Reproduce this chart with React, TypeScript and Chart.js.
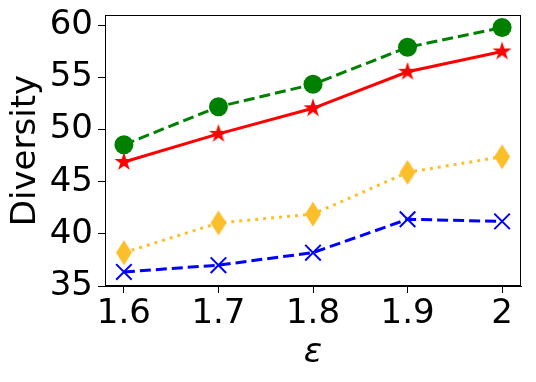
import React, { useEffect, useRef } from "react";
import { Chart, registerables } from "chart.js";

Chart.register(...registerables);

const epsilons = [1.6, 1.7, 1.8, 1.9, 2.0];
const greenSeries = [48.55, 52.2, 54.35, 57.9, 59.8];
const redSeries = [46.9, 49.6, 52.05, 55.55, 57.5];
const orangeSeries = [38.2, 41.05, 41.9, 45.9, 47.4];
const blueSeries = [36.35, 37.0, 38.2, 41.4, 41.2];
const yTickValues = [35, 40, 45, 50, 55, 60];
const xTickValues = [1.6, 1.7, 1.8, 1.9, 2.0];

const FONT = "'DejaVu Sans', sans-serif";

function makeStar(color: string, R: number) {
  const c = document.createElement("canvas");
  const s = Math.ceil(2 * R + 2);
  c.width = s;
  c.height = s;
  const ctx = c.getContext("2d")!;
  const cx = s / 2, cy = s / 2;
  const r = R * 0.381966;
  ctx.beginPath();
  for (let i = 0; i < 10; i++) {
    const rad = i % 2 === 0 ? R : r;
    const a = -Math.PI / 2 + (i * Math.PI) / 5;
    const x = cx + rad * Math.cos(a);
    const y = cy + rad * Math.sin(a);
    if (i === 0) ctx.moveTo(x, y);
    else ctx.lineTo(x, y);
  }
  ctx.closePath();
  ctx.fillStyle = color;
  ctx.fill();
  return c;
}

function makeThinDiamond(color: string, hw: number, hh: number) {
  const c = document.createElement("canvas");
  const w = Math.ceil(2 * hw + 2), h = Math.ceil(2 * hh + 2);
  c.width = w;
  c.height = h;
  const ctx = c.getContext("2d")!;
  const cx = w / 2, cy = h / 2;
  ctx.beginPath();
  ctx.moveTo(cx, cy - hh);
  ctx.lineTo(cx + hw, cy);
  ctx.lineTo(cx, cy + hh);
  ctx.lineTo(cx - hw, cy);
  ctx.closePath();
  ctx.fillStyle = color;
  ctx.fill();
  return c;
}

const boxPlugin = {
  id: "boxPlugin",
  afterDraw(chart: any) {
    const { ctx, chartArea } = chart;
    ctx.save();
    ctx.strokeStyle = "#000";
    ctx.lineWidth = 1;
    ctx.strokeRect(chartArea.left + 0.5, chartArea.top + 0.5, chartArea.right - chartArea.left - 1, chartArea.bottom - chartArea.top - 1);
    ctx.restore();
  },
};

export default function App() {
  const ref = useRef<HTMLCanvasElement | null>(null);
  useEffect(() => {
    document.body.style.margin = "0";
    const canvas = ref.current!;
    const GREEN = "#008000";
    const RED = "#ff0000";
    const ORANGE = "#fcbf2c";
    const BLUE = "#0000ff";
    const star = makeStar(RED, 10);
    const diamond = makeThinDiamond(ORANGE, 8, 12.5);
    const mk = (ys: number[]) => epsilons.map((x, i) => ({ x, y: ys[i] }));
    const chart = new Chart(canvas, {
      type: "line",
      data: {
        datasets: [
          {
            data: mk(greenSeries),
            borderColor: GREEN,
            backgroundColor: GREEN,
            borderWidth: 3,
            borderDash: [11, 5],
            pointStyle: "circle",
            pointRadius: 9.5,
            pointBorderWidth: 0,
            pointBackgroundColor: GREEN,
          },
          {
            data: mk(redSeries),
            borderColor: RED,
            backgroundColor: RED,
            borderWidth: 3,
            pointStyle: star as any,
            pointRadius: 10,
          },
          {
            data: mk(orangeSeries),
            borderColor: ORANGE,
            backgroundColor: ORANGE,
            borderWidth: 3,
            borderDash: [3, 5],
            pointStyle: diamond as any,
            pointRadius: 12,
          },
          {
            data: mk(blueSeries),
            borderColor: BLUE,
            backgroundColor: BLUE,
            borderWidth: 3,
            borderDash: [11, 5],
            pointStyle: "crossRot",
            pointRadius: 11,
            pointBorderWidth: 2,
            pointBorderColor: BLUE,
          },
        ],
      },
      options: {
        responsive: false,
        animation: false,
        events: [],
        layout: { padding: { top: 14, right: 11, left: 0, bottom: 0 } },
        plugins: { legend: { display: false }, tooltip: { enabled: false } },
        scales: {
          x: {
            type: "linear",
            min: 1.58,
            max: 2.02,
            afterBuildTicks: (scale: any) => {
              scale.ticks = xTickValues.map((v) => ({ value: v }));
            },
            afterFit: (scale: any) => {
              scale.height = 96;
              scale.paddingLeft = 0;
              scale.paddingRight = 0;
            },
            ticks: {
              color: "#000",
              font: { family: FONT, size: 34 },
              padding: 1,
              maxRotation: 0,
              autoSkip: false,
              callback: (v: any) => String(Math.round(Number(v) * 10) / 10),
            },
            grid: { drawOnChartArea: false, drawTicks: true, tickLength: 7, color: "#000", tickWidth: 1 },
            border: { display: true, color: "#000", width: 1 },
            title: {
              display: true,
              text: "ε",
              color: "#000",
              font: { family: FONT, size: 34, style: "italic" },
              padding: { top: 0, bottom: 8 },
            },
          },
          y: {
            type: "linear",
            min: 35,
            max: 61,
            afterBuildTicks: (scale: any) => {
              scale.ticks = yTickValues.map((v) => ({ value: v }));
            },
            afterFit: (scale: any) => {
              scale.width = 105;
              scale.paddingTop = 0;
              scale.paddingBottom = 0;
            },
            ticks: {
              color: "#000",
              font: { family: FONT, size: 34 },
              padding: 5,
              autoSkip: false,
            },
            grid: { drawOnChartArea: false, drawTicks: true, tickLength: 7, color: "#000", tickWidth: 1 },
            border: { display: true, color: "#000", width: 1 },
            title: {
              display: true,
              text: "Diversity",
              color: "#000",
              font: { family: FONT, size: 34 },
              padding: { top: 6, bottom: 0 },
            },
          },
        },
      },
      plugins: [boxPlugin],
    } as any);
    return () => chart.destroy();
  }, []);
  return (
    <div style={{ width: 536, height: 382 }}>
      <canvas ref={ref} width={536} height={382} style={{ display: "block" }} />
    </div>
  );
}
